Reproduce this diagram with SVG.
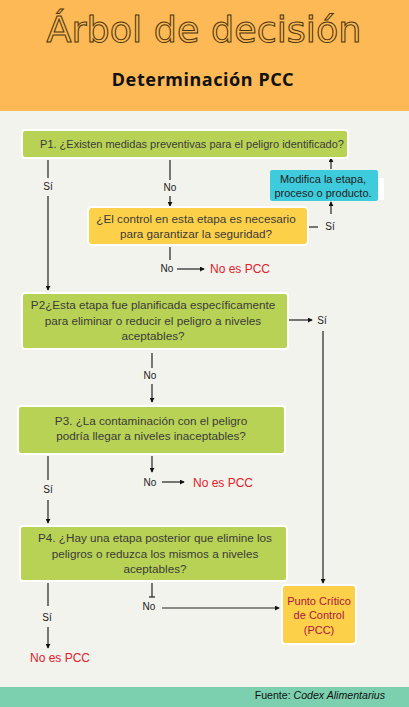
<svg xmlns="http://www.w3.org/2000/svg" width="409" height="707" viewBox="0 0 409 707">
<defs>
<marker id="ah" viewBox="0 0 6 6" refX="5" refY="3" markerWidth="5" markerHeight="5" orient="auto" markerUnits="userSpaceOnUse">
<path d="M0,0 L6,3 L0,6 Z" fill="#111"/>
</marker>
<style>
.q{font-family:"Liberation Sans",Arial,sans-serif;font-size:11.7px;fill:#3b3b3b;text-anchor:middle}
.s{font-size:11px}
.dk{fill:#222}
.pc{fill:#b0143f}
.lb{font-family:"Liberation Sans",Arial,sans-serif;font-size:10px;fill:#222;text-anchor:middle}
.red{font-family:"Liberation Sans",Arial,sans-serif;font-size:12px;fill:#e0202a}
.green{fill:#b8d255;stroke:#fff;stroke-width:2}
.yel{fill:#fdd04a;stroke:#fff;stroke-width:2}
.cy{fill:#3ecbdb}
.ln{stroke:#222;stroke-width:1.2;fill:none}
.ar{stroke:#222;stroke-width:1.2;fill:none;marker-end:url(#ah)}
</style>
</defs>
<rect x="0" y="0" width="409" height="707" fill="#f3f3ee"/>
<g id="header">
<rect x="0" y="0" width="409" height="111" fill="#fdb955"/>
<text x="204" y="42" font-family="DejaVu Sans,sans-serif" font-size="35" fill="#fdb955" stroke="#4a3510" stroke-width="1" text-anchor="middle" textLength="315" lengthAdjust="spacingAndGlyphs">Árbol de decisión</text>
<text x="203" y="86" font-family="Noto Sans,sans-serif" font-weight="bold" font-size="18" fill="#111" text-anchor="middle" letter-spacing="0.6">Determinación PCC</text>
</g>
<g id="footer">
<rect x="0" y="687" width="409" height="20" fill="#7ccfaf"/>
<text x="385" y="699" font-family="Liberation Sans,Arial,sans-serif" font-size="10.6" fill="#111" text-anchor="end">Fuente:  <tspan font-style="italic">Codex Alimentarius</tspan></text>
</g>
<g id="connectors">
<line class="ln" x1="48" y1="160" x2="48" y2="178"/>
<text class="lb" x="48" y="190">Sí</text>
<line class="ar" x1="48" y1="196" x2="48" y2="290"/>
<line class="ln" x1="170" y1="160" x2="170" y2="180"/>
<text class="lb" x="170" y="191">No</text>
<line class="ar" x1="170" y1="196" x2="170" y2="206"/>
<line class="ln" x1="308" y1="227" x2="318" y2="227"/>
<text class="lb" x="330" y="230">Sí</text>
<line class="ar" x1="331" y1="214" x2="331" y2="202"/>
<line class="ar" x1="331" y1="169" x2="331" y2="158"/>
<line class="ln" x1="170" y1="247" x2="170" y2="260"/>
<text class="lb" x="167" y="272">No</text>
<line class="ar" x1="177" y1="269" x2="204" y2="269"/>
<line class="ar" x1="289" y1="320" x2="312" y2="320"/>
<text class="lb" x="322" y="324">Sí</text>
<line class="ar" x1="323" y1="331" x2="323" y2="583"/>
<line class="ln" x1="152" y1="353" x2="152" y2="368"/>
<text class="lb" x="150" y="379">No</text>
<line class="ar" x1="152" y1="384" x2="152" y2="402"/>
<line class="ar" x1="152" y1="456" x2="152" y2="472"/>
<text class="lb" x="150" y="486">No</text>
<line class="ar" x1="162" y1="482" x2="184" y2="482"/>
<line class="ln" x1="48" y1="456" x2="48" y2="480"/>
<text class="lb" x="48" y="493">Sí</text>
<line class="ar" x1="48" y1="500" x2="48" y2="523"/>
<line class="ln" x1="48" y1="583" x2="48" y2="606"/>
<text class="lb" x="47" y="621">Sí</text>
<line class="ar" x1="48" y1="627" x2="48" y2="648"/>
<line class="ln" x1="152" y1="583" x2="152" y2="597"/>
<line class="ln" x1="149" y1="597" x2="155" y2="597"/>
<text class="lb" x="149" y="610">No</text>
<line class="ar" x1="162" y1="608" x2="279" y2="608"/>
</g>
<g id="p1">
<rect class="green" x="22" y="130" width="326" height="28" rx="3"/>
<text class="q s" x="192" y="148">P1. ¿Existen medidas preventivas para el peligro identificado?</text>
</g>
<g id="modifica">
<rect x="377" y="178" width="7" height="22" fill="#fff"/>
<rect class="cy" x="270" y="170" width="108" height="31" rx="2"/>
<text class="q s dk" x="323" y="183">Modifica la etapa,</text>
<text class="q s dk" x="323" y="197">proceso o producto.</text>
</g>
<g id="control">
<rect class="yel" x="88" y="207" width="220" height="38" rx="4"/>
<text class="q" x="196" y="223">¿El control en esta etapa es necesario</text>
<text class="q" x="196" y="238">para garantizar la seguridad?</text>
</g>
<g id="nopcc1"><text class="red" x="210" y="273">No es PCC</text></g>
<g id="p2">
<rect class="green" x="22" y="293" width="266" height="56" rx="3"/>
<text class="q" x="153" y="309">P2¿Esta etapa fue planificada específicamente</text>
<text class="q" x="153" y="325">para eliminar o reducir el peligro a niveles</text>
<text class="q" x="153" y="340">aceptables?</text>
</g>
<g id="p3">
<rect class="green" x="18" y="406" width="267" height="48" rx="3"/>
<text class="q" x="151" y="425">P3. ¿La contaminación con el peligro</text>
<text class="q" x="151" y="440">podría llegar a niveles inaceptables?</text>
</g>
<g id="nopcc2"><text class="red" x="193" y="487">No es PCC</text></g>
<g id="p4">
<rect class="green" x="20" y="526" width="267" height="55" rx="3"/>
<text class="q" x="155" y="542">P4. ¿Hay una etapa posterior que elimine los</text>
<text class="q" x="155" y="558">peligros o reduzca los mismos a niveles</text>
<text class="q" x="155" y="573">aceptables?</text>
</g>
<g id="pcc">
<rect class="yel" x="282" y="585" width="74" height="59" rx="3"/>
<text class="q s pc" x="319" y="605">Punto Crítico</text>
<text class="q s pc" x="319" y="619">de Control</text>
<text class="q s pc" x="319" y="634">(PCC)</text>
</g>
<g id="nopcc3"><text class="red" x="30" y="662">No es PCC</text></g>
</svg>
